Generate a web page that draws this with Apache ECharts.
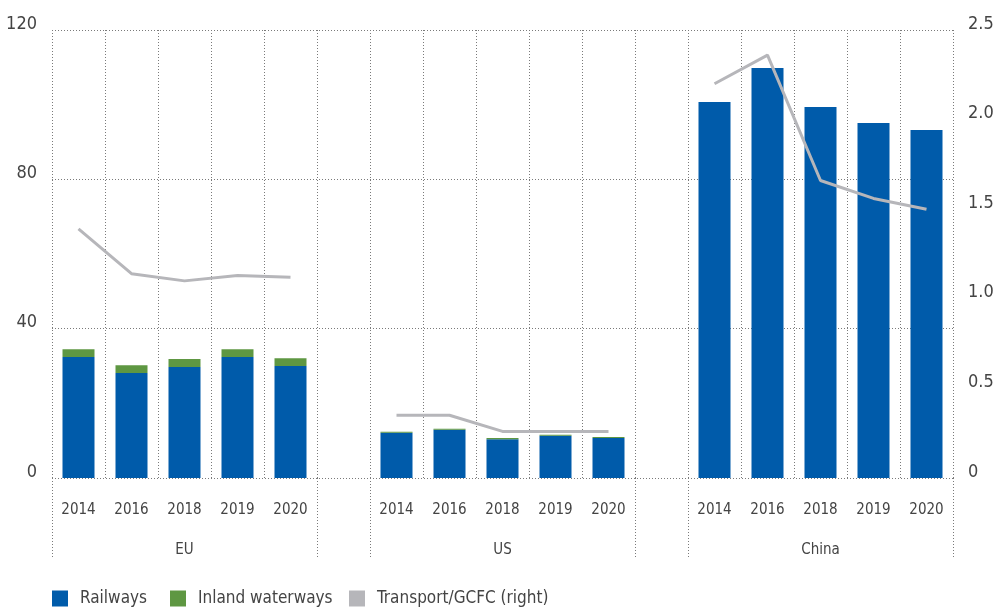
<!DOCTYPE html>
<html>
<head>
<meta charset="utf-8">
<script src="https://cdn.jsdelivr.net/npm/echarts@6/dist/echarts.min.js"></script>
<style>html,body{margin:0;padding:0;background:#fff}#c{width:994px;height:610px}</style>
</head>
<body>
<div id="c"></div>
<script>
const groups = ['EU', 'US', 'China'];
const years = ['2014', '2016', '2018', '2019', '2020'];

const railwaysEU = [32.4, 28.1, 29.7, 32.4, 30.0];
const railwaysUS = [12.1, 12.9, 10.4, 11.3, 10.7];
const railwaysChina = [100.7, 109.8, 99.4, 95.1, 93.2];

const waterwaysEU = [2.1, 2.1, 2.2, 2.1, 2.1];
const waterwaysUS = [0.3, 0.3, 0.3, 0.3, 0.3];
const waterwaysChina = [0, 0, 0, 0, 0];

const gcfcEU = [1.39, 1.14, 1.10, 1.13, 1.12];
const gcfcUS = [0.35, 0.35, 0.26, 0.26, 0.26];
const gcfcChina = [2.20, 2.36, 1.66, 1.56, 1.50];

const leftTicks = [0, 40, 80, 120];
const rightTicks = ['0', '0.5', '1.0', '1.5', '2.0', '2.5'];
const seriesNames = ['Railways', 'Inland waterways', 'Transport/GCFC (right)'];

// build slots: group, gap, group, gap, group
function join(parts, gapValue) {
  const out = [];
  parts.forEach((p, i) => { if (i > 0) out.push(gapValue); out.push(...p); });
  return out;
}
const yearCats = join(groups.map(() => years), '');
const groupCats = join(groups.map(g => years.map((y, i) => i === Math.floor(years.length / 2) ? g : '')), '');
const railways = join([railwaysEU, railwaysUS, railwaysChina], null);
const waterways = join([waterwaysEU, waterwaysUS, waterwaysChina], null);
const gcfc = join([gcfcEU, gcfcUS, gcfcChina], null);

const n = years.length;
const boundaryStarts = [];
for (let g = 0; g < groups.length; g++) {
  const start = g * (n + 1);
  boundaryStarts.push(start);
  if (g < groups.length - 1) boundaryStarts.push(start + n);
}

const FONT = '"DejaVu Sans Condensed", "Liberation Sans Narrow", "Roboto", sans-serif';
const TXT = '#444';
const GRID = '#7a7a7a';
const legendLefts = [52, 170, 349];

const chart = echarts.init(document.getElementById('c'));
chart.setOption({
  animation: false,
  textStyle: { fontFamily: FONT },
  grid: { left: 52, right: 41, top: 30, bottom: 132, containLabel: false, outerBoundsMode: 'none' },
  legend: seriesNames.map((name, i) => ({
    left: legendLefts[i], top: 590, padding: 0, icon: 'rect', itemWidth: 16, itemHeight: 16,
    textStyle: { fontFamily: FONT, fontSize: 17, color: TXT, padding: [0, 0, 0, 7] },
    data: [name]
  })),
  xAxis: [
    {
      type: 'category', data: yearCats, position: 'bottom',
      axisLine: { show: false }, axisTick: { show: false },
      axisLabel: { interval: 0, margin: 25, fontSize: 15, color: TXT, fontFamily: FONT },
      splitLine: { show: true, interval: 0, lineStyle: { color: GRID, type: [1, 2], width: 1 } }
    },
    {
      type: 'category', data: groupCats, position: 'bottom', offset: 0,
      axisLine: { show: false },
      axisTick: {
        show: true, length: 79, interval: (i) => boundaryStarts.includes(i),
        lineStyle: { color: GRID, type: [1, 2], width: 1 }
      },
      axisLabel: { interval: 0, margin: 65, fontSize: 15, color: TXT, fontFamily: FONT },
      splitLine: { show: false }
    }
  ],
  yAxis: [
    {
      type: 'value', min: 0, max: 120, interval: 40, position: 'left',
      axisLine: { show: false }, axisTick: { show: false },
      axisLabel: { margin: 15, fontSize: 18, color: TXT, fontFamily: FONT, verticalAlign: 'bottom', lineHeight: 12,
        formatter: v => leftTicks.includes(v) ? String(v) : '' },
      splitLine: { show: true, lineStyle: { color: GRID, type: [1, 2], width: 1 } }
    },
    {
      type: 'value', min: 0, max: 2.5, interval: 0.5, position: 'right',
      axisLine: { show: false }, axisTick: { show: false },
      axisLabel: { margin: 15, fontSize: 18, color: TXT, fontFamily: FONT, verticalAlign: 'bottom', lineHeight: 12,
        formatter: v => rightTicks[Math.round(v / 0.5)] },
      splitLine: { show: false }
    }
  ],
  series: [
    { name: seriesNames[0], type: 'bar', stack: 'a', barWidth: 32, data: railways,
      itemStyle: { color: '#005BAA' } },
    { name: seriesNames[1], type: 'bar', stack: 'a', barWidth: 32, data: waterways,
      itemStyle: { color: '#5E9742' } },
    { name: seriesNames[2], type: 'line', yAxisIndex: 1, data: gcfc,
      symbol: 'none', connectNulls: false,
      lineStyle: { color: '#B6B6BA', width: 3 }, itemStyle: { color: '#B6B6BA' } }
  ]
});
</script>
</body>
</html>
